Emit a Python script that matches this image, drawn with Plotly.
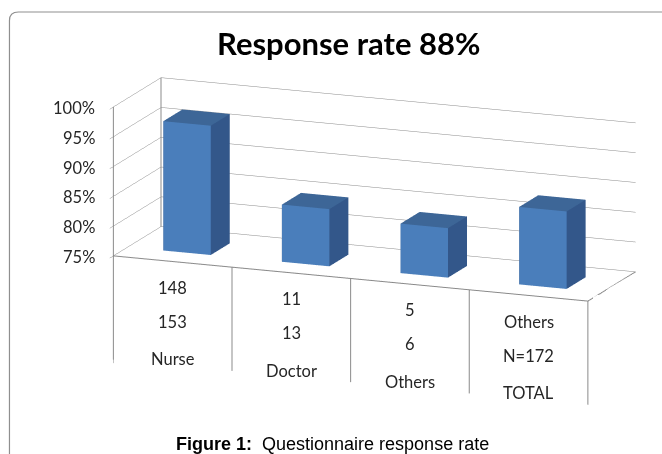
import math
import plotly.graph_objects as go

# ---------------- data ----------------
categories = ["Nurse", "Doctor", "Others", "TOTAL"]
row1_labels = ["148", "11", "5", "Others"]
row2_labels = ["153", "13", "6", "N=172"]
response_rate = [96.7, 84.6, 83.3, 88.0]          # percent
tick_values = [75, 80, 85, 90, 95, 100]
tick_labels = ["75%", "80%", "85%", "90%", "95%", "100%"]
chart_title = "Response rate 88%"
caption_text = "<b>Figure 1:</b>\u00a0 Questionnaire response rate"

# ---------------- geometry / style ----------------
Z_FLOOR, Z_TOP, Z_LOW = 75, 100, 57
BAR_W = 0.4
DEPTH = (0.3, 0.7)
LINE_C = "#8a8a8a"
FRONT_C, SIDE_C, TOP_C = "#4a7ebb", "#33578a", "#3d6697"
TXT_C = "#262626"
FONT = "Lato"

# camera (orthographic): rotation about vertical axis and elevation
PHI = math.radians(21.5)
THETA = math.radians(14.0)
PX_PER_UNIT = 454 / 2.0           # ortho view: half domain height == 1 unit
W_PX = 510.0                      # target width of the floor (screen px)
DEPTH_RATIO, H25_RATIO = 0.255, 0.301
SHIFT_PX = (43.5, 16.0)           # move box centre right / down on screen
EYE_DIST = 3.1

ar_x = W_PX / PX_PER_UNIT
ar_y = DEPTH_RATIO * ar_x
ar_z = H25_RATIO * (Z_TOP - Z_LOW) / 25.0 * ar_x

r_vec = (math.cos(PHI), math.sin(PHI), 0.0)
u_vec = (-math.sin(PHI) * math.sin(THETA), math.cos(PHI) * math.sin(THETA), math.cos(THETA))
e_dir = (math.sin(PHI) * math.cos(THETA), -math.cos(PHI) * math.cos(THETA), math.sin(THETA))
alpha = -SHIFT_PX[0] / PX_PER_UNIT
beta = SHIFT_PX[1] / PX_PER_UNIT
cen = [alpha * r_vec[i] + beta * u_vec[i] for i in range(3)]
eye = [cen[i] + EYE_DIST * e_dir[i] for i in range(3)]

x_pos = list(range(1, len(categories) + 1))
x_lo, x_hi = 0.5, len(categories) + 0.5

fig = go.Figure()

# ---- 3D bars (one mesh) ----
vx, vy, vz, I, J, K, fc = [], [], [], [], [], [], []
for xc, val in zip(x_pos, response_rate):
    x0, x1 = xc - BAR_W / 2, xc + BAR_W / 2
    y0, y1 = DEPTH
    z0, z1 = Z_FLOOR, val
    b = len(vx)
    for (px, py, pz) in [(x0, y0, z0), (x1, y0, z0), (x1, y1, z0), (x0, y1, z0),
                         (x0, y0, z1), (x1, y0, z1), (x1, y1, z1), (x0, y1, z1)]:
        vx.append(px); vy.append(py); vz.append(pz)
    quads = [((0, 1, 5, 4), FRONT_C), ((1, 2, 6, 5), SIDE_C), ((4, 5, 6, 7), TOP_C),
             ((3, 2, 6, 7), SIDE_C), ((0, 3, 7, 4), SIDE_C), ((0, 1, 2, 3), SIDE_C)]
    for (a, bb, c, d), col in quads:
        for tri in ((a, bb, c), (a, c, d)):
            I.append(b + tri[0]); J.append(b + tri[1]); K.append(b + tri[2]); fc.append(col)

fig.add_trace(go.Mesh3d(
    x=vx, y=vy, z=vz, i=I, j=J, k=K, facecolor=fc, flatshading=True,
    lighting=dict(ambient=1.0, diffuse=0.0, specular=0.0, roughness=1.0, fresnel=0.0),
    hoverinfo="skip", showscale=False))


def seg(p, q, color=LINE_C, width=2):
    fig.add_trace(go.Scatter3d(x=[p[0], q[0]], y=[p[1], q[1]], z=[p[2], q[2]],
                               mode="lines", line=dict(color=color, width=width),
                               hoverinfo="skip", showlegend=False))


# floor outline, wall edges, axis line
seg((x_lo, 0, Z_FLOOR), (x_hi, 0, Z_FLOOR))
seg((x_hi, 0, Z_FLOOR), (x_hi, 1, Z_FLOOR))
seg((x_lo, 0, Z_FLOOR), (x_lo, 0, Z_TOP))
seg((x_lo, 1, Z_FLOOR), (x_lo, 1, Z_TOP))
# category dividers hanging below the floor
for k in range(len(categories) + 1):
    xd = x_lo + k
    seg((xd, 0, Z_FLOOR), (xd, 0, Z_LOW + 0.6))

ann = []
# value-axis tick labels, placed at the tick values on the front-left edge
for tv, tt in zip(tick_values, tick_labels):
    ann.append(dict(x=x_lo, y=0, z=tv, text=tt, showarrow=False,
                    xanchor="right", yanchor="middle", xshift=-16, yshift=-1,
                    font=dict(family=FONT, size=16.5, color=TXT_C)))
# category label annotations (three rows)
row_offsets = [4.4, 10.1, 16.4]
for xc, r1, r2, r3 in zip(x_pos, row1_labels, row2_labels, categories):
    for txt, off in zip((r1, r2, r3), row_offsets):
        ann.append(dict(x=xc, y=0, z=Z_FLOOR - off, text=txt, showarrow=False,
                        xanchor="center", yanchor="middle",
                        font=dict(family=FONT, size=16.5, color=TXT_C)))

hidden_axis = dict(showgrid=False, showticklabels=False, showline=False, zeroline=False,
                   showbackground=False, showspikes=False, ticks="", title=dict(text=""))

fig.update_layout(
    width=662, height=454,
    margin=dict(l=0, r=0, t=0, b=0),
    paper_bgcolor="white",
    showlegend=False,
    hovermode=False,
    scene=dict(
        domain=dict(x=[0.0, 1.0], y=[0.0, 1.0]),
        xaxis=dict(range=[x_lo, x_hi], **hidden_axis),
        yaxis=dict(range=[0, 1], **hidden_axis),
        zaxis=dict(range=[Z_LOW, Z_TOP], tickmode="array", tickvals=tick_values,
                   ticktext=tick_labels, showticklabels=False, showgrid=True,
                   gridcolor=LINE_C, gridwidth=1, ticks="outside", ticklen=6,
                   tickcolor=LINE_C, showline=True, linecolor=LINE_C, linewidth=1,
                   zeroline=False, showbackground=False, showspikes=False,
                   title=dict(text="")),
        aspectmode="manual",
        aspectratio=dict(x=ar_x, y=ar_y, z=ar_z),
        camera=dict(eye=dict(x=eye[0], y=eye[1], z=eye[2]),
                    center=dict(x=cen[0], y=cen[1], z=cen[2]), up=dict(x=0, y=0, z=1),
                    projection=dict(type="orthographic")),
        dragmode=False,
        annotations=ann,
    ),
    annotations=[
        dict(text=f"<b>{chart_title}</b>", x=0.527, y=1 - 43 / 454, xref="paper", yref="paper",
             showarrow=False, xanchor="center", yanchor="middle",
             font=dict(family=FONT, size=31, color="black")),
        dict(text=caption_text, x=0.502, y=1 - 444 / 454, xref="paper", yref="paper",
             showarrow=False, xanchor="center", yanchor="middle",
             font=dict(family="Liberation Sans, Arial", size=18, color="black")),
    ],
    shapes=[dict(type="path", xref="paper", yref="paper",
                 path="M 0.0143,-0.1 L 0.0143,0.955 Q 0.0143,0.9736 0.0279,0.9736 L 1.1,0.9736",
                 line=dict(color="#8f8f8f", width=1.2))],
)

fig.write_html("out.html")
